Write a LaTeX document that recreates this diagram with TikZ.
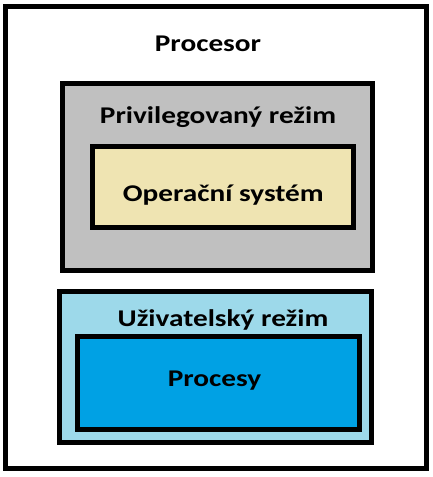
\documentclass[tikz,border=0pt]{standalone}
\usepackage{fontspec}
\setmainfont{Carlito}[FakeStretch=1.22]
\definecolor{grayfill}{RGB}{192,192,192}
\definecolor{sandfill}{RGB}{239,228,178}
\definecolor{lightcyan}{RGB}{157,217,234}
\definecolor{procblue}{RGB}{0,161,228}
\begin{document}
\begin{tikzpicture}[x=0.75pt,y=-0.75pt,
  frame/.style={draw=black,line width=3.75pt},
  lbl/.style={font=\fontsize{18}{21}\selectfont\bfseries,inner sep=0pt,anchor=base}]
\useasboundingbox (0,0) rectangle (432,477);
\draw[frame,fill=white] (5.5,6.5) rectangle (426.5,468.5);
\draw[frame,fill=grayfill] (62.5,83.5) rectangle (372.5,270.5);
\draw[frame,fill=sandfill] (92.5,146.5) rectangle (353.5,227.5);
\draw[frame,fill=lightcyan] (59.5,291.5) rectangle (371.5,442.5);
\draw[frame,fill=procblue] (77.5,336.5) rectangle (359.5,429);
\node[lbl] (procesor) at (208,51.7) {Procesor};
\node[lbl] (priv) at (218,123.3) {Privilegovaný režim};
\node[lbl] (os) at (223.3,201.7) {Operační systém};
\node[lbl] (user) at (223,326) {Uživatelský režim};
\node[lbl] (procesy) at (214.5,386) {Procesy};
\end{tikzpicture}
\end{document}
